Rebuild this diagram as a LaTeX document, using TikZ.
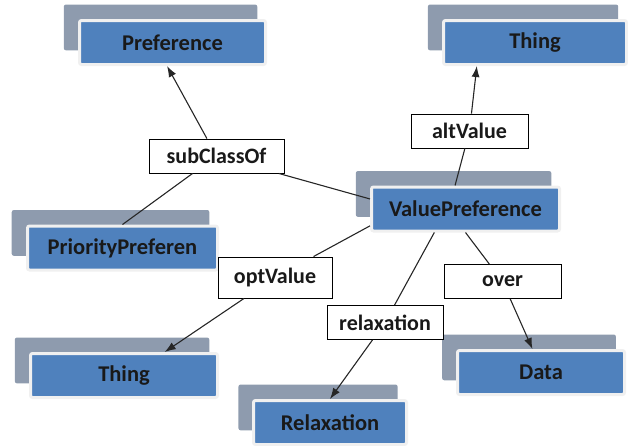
\documentclass[tikz,border=0pt]{standalone}
\usepackage{fontspec}
\setmainfont{Carlito}
\usepackage{xcolor}
\usetikzlibrary{arrows.meta, shadows}

\definecolor{boxblue}{HTML}{4F81BD}
\definecolor{backgray}{HTML}{8E9BAE}
\definecolor{rimgray}{HTML}{F0F0F0}
\definecolor{linegray}{HTML}{262626}

\begin{document}
\begin{tikzpicture}[x=1pt, y=-1pt,
  classbox/.style={rectangle, rounded corners=2pt, fill=boxblue, draw=rimgray,
    line width=3pt, minimum height=44pt, text=black!90,
    font=\fontsize{22.5}{25}\selectfont\bfseries,
    general shadow={fill=backgray, shadow xshift=-11.5pt, shadow yshift=14.5pt,
      shadow scale=1.04}},
  propbox/.style={rectangle, fill=white, draw=black, line width=0.9pt,
    minimum height=34pt, inner xsep=0pt, text=black!90,
    font=\fontsize{22}{25}\selectfont\bfseries},
  link/.style={draw=linegray, line width=1.1pt},
  arrow/.style={link, -{Latex[length=11pt, width=8pt]}}]

\useasboundingbox (0,0) rectangle (628,445);

% classes
\node[classbox, minimum width=186pt] (pref) at (172.5,42.5) {Preference};
\node[classbox, minimum width=183pt] (thingtop) at (535,42.5) {Thing};
\node[classbox, minimum width=188pt] (vp) at (465.5,209) {ValuePreference};
\node[classbox, minimum width=190pt] (prio) at (122.5,248) {PriorityPreferen};
\node[classbox, minimum width=187pt] (thingbot) at (124,375.5) {Thing};
\node[classbox, minimum width=153pt] (relax) at (330,422.5) {Relaxation};
\node[classbox, minimum width=167pt] (data) at (541,372.5) {Data};

% propriedades
\node[propbox, minimum width=135pt] (subc) at (216.5,156) {subClassOf};
\node[propbox, minimum width=117pt] (altv) at (469.5,131) {altValue};
\node[propbox, minimum width=114pt, minimum height=41pt] (optv) at (275,277.5) {optValue};
\node[propbox, minimum width=116pt] (relx) at (385,322.5) {relaxation};
\node[propbox, minimum width=117pt] (over) at (502.5,281.5) {over};

% ligações
\draw[link] (prio.north) -- (subc);
\draw[link] (vp.174) -- (subc);
\draw[arrow] (subc) -- (pref.257);
\draw[link] (vp.114) -- (altv);
\draw[arrow] (altv) -- (thingtop.202);
\draw[link] (vp.190) -- (optv);
\draw[arrow] (optv) -- (thingbot.30);
\draw[link] (vp.217) -- (relx);
\draw[arrow] (relx) -- (relax.north);
\draw[link] (vp.south) -- (over);
\draw[arrow] (over) -- (data.110);

\end{tikzpicture}
\end{document}
